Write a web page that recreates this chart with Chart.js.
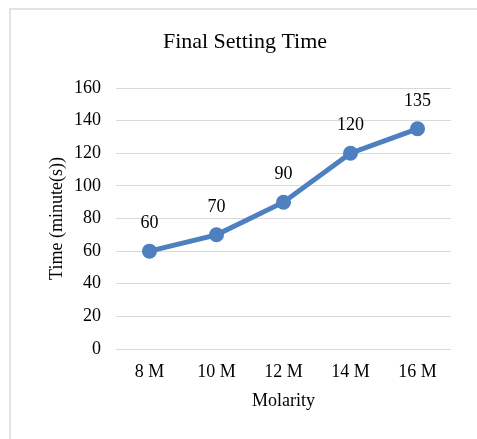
<!DOCTYPE html>
<html>
<head>
<meta charset="utf-8">
<script src="https://cdn.jsdelivr.net/npm/chart.js@4/dist/chart.umd.min.js"></script>
<style>
  html, body { margin: 0; padding: 0; background: #fff; overflow: hidden; }
  #frame { position: absolute; left: 9px; top: 8px; width: 600px; height: 600px;
           border-left: 2px solid #e2e2e2; border-top: 2px solid #e2e2e2; }
  #wrap { position: absolute; left: 0; top: 0; width: 477px; height: 439px; }
</style>
</head>
<body>
<div id="frame"></div>
<div id="wrap"><canvas id="chart" width="477" height="439"></canvas></div>
<script>
const categories = ['8 M', '10 M', '12 M', '14 M', '16 M'];
const settingTimes = [60, 70, 90, 120, 135];
const yTicks = [0, 20, 40, 60, 80, 100, 120, 140, 160];
const chartTitle = 'Final Setting Time';

const SERIF = '"Liberation Serif", "Times New Roman", serif';
const LINE_BLUE = '#4e7fbe';

// Title centred on the framed panel rather than on the canvas
const panelTitle = {
  id: 'panelTitle',
  afterDraw(chart) {
    const ctx = chart.ctx;
    ctx.save();
    ctx.font = '22px ' + SERIF;
    ctx.fillStyle = '#000';
    ctx.textAlign = 'center';
    ctx.textBaseline = 'middle';
    ctx.fillText(chartTitle, 245, 42);
    ctx.restore();
  }
};

// Writes each point's value above its marker
const valueLabels = {
  id: 'valueLabels',
  afterDatasetsDraw(chart) {
    const ctx = chart.ctx;
    const meta = chart.getDatasetMeta(0);
    ctx.save();
    ctx.font = '18px ' + SERIF;
    ctx.fillStyle = '#000';
    ctx.textAlign = 'center';
    ctx.textBaseline = 'middle';
    meta.data.forEach((pt, i) => {
      ctx.fillText(String(chart.data.datasets[0].data[i]), pt.x, pt.y - 28);
    });
    ctx.restore();
  }
};

new Chart(document.getElementById('chart'), {
  type: 'line',
  data: {
    labels: categories,
    datasets: [{
      data: settingTimes,
      borderColor: LINE_BLUE,
      backgroundColor: LINE_BLUE,
      borderWidth: 5,
      pointRadius: 7.5,
      pointHoverRadius: 7.5,
      pointBorderWidth: 0,
      tension: 0,
      fill: false
    }]
  },
  options: {
    responsive: false,
    animation: false,
    devicePixelRatio: 1,
    layout: { padding: { left: 0, right: 26, top: 88, bottom: 0 } },
    plugins: {
      legend: { display: false },
      tooltip: { enabled: false },
      title: { display: false }
    },
    scales: {
      x: {
        offset: true,
        grid: { display: false, drawTicks: false },
        border: { display: false },
        ticks: { color: '#000', font: { family: SERIF, size: 18 }, padding: 12, maxRotation: 0 },
        title: {
          display: true, text: 'Molarity', color: '#000',
          font: { family: SERIF, size: 18, lineHeight: 1.2 },
          padding: { top: 0, bottom: 27 }
        },
        afterFit(scale) { scale.height = 90; }
      },
      y: {
        min: 0, max: 160,
        afterBuildTicks(scale) { scale.ticks = yTicks.map(v => ({ value: v })); },
        grid: { color: '#d9d9d9', lineWidth: 1, drawTicks: false },
        border: { display: false },
        ticks: { color: '#000', font: { family: SERIF, size: 18 }, padding: 15 },
        title: {
          display: true, text: 'Time (minute(s))', color: '#000',
          font: { family: SERIF, size: 18, lineHeight: 1.2 },
          padding: { top: 46, bottom: 0 }
        },
        afterFit(scale) { scale.width = 116; }
      }
    }
  },
  plugins: [valueLabels, panelTitle]
});
</script>
</body>
</html>
